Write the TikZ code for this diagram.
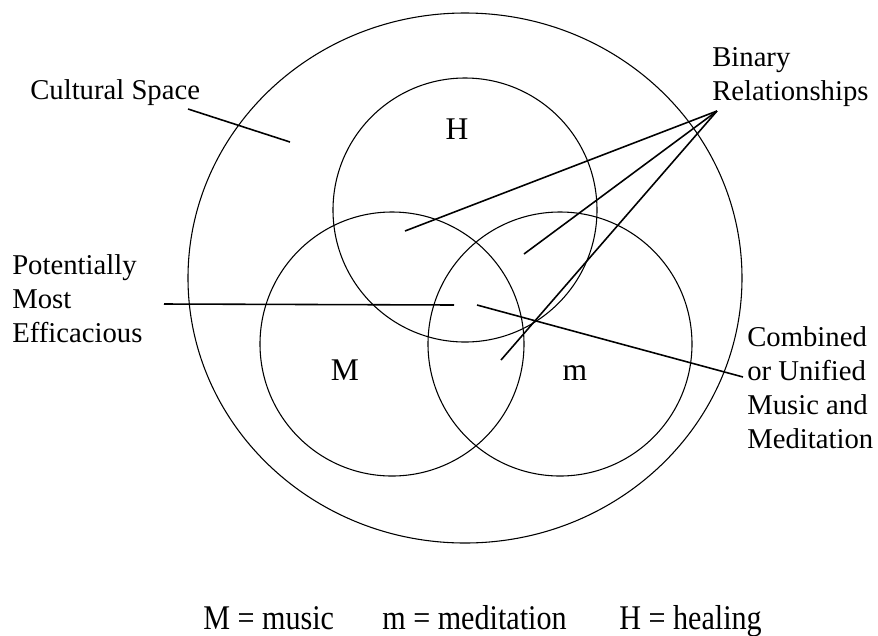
\documentclass[tikz,border=0pt]{standalone}
\usepackage{fontspec}
\setmainfont{Liberation Serif}
\usetikzlibrary{math}

\tikzset{
  txt/.style={font=\fontsize{20}{23.7}\selectfont, inner sep=0pt, align=left, anchor=base west},
  legend/.style={font=\fontsize{21}{25}\selectfont, inner sep=0pt, anchor=base west},
  letter/.style={font=\fontsize{22}{26}\selectfont, inner sep=0pt, anchor=base},
  ring/.style={line width=0.75pt},
  leader/.style={line width=1.1pt}
}

\begin{document}
\begin{tikzpicture}[x=0.697pt,y=-0.697pt]

  \tikzmath{
    \r  = 132; % radius of the three small circles
    \rx = 277; % half width of the cultural space
    \ry = 265; % half height of the cultural space
  }

  \useasboundingbox (0,0) rectangle (878,635);

  % Centres of the circles
  \coordinate (S) at (465, 278);
  \coordinate (H) at (465, 210);
  \coordinate (M) at (392, 344);
  \coordinate (m) at (560, 344);

  % Cultural space and the three circles
  \draw[ring] (S) ellipse [x radius=\rx, y radius=\ry];
  \draw[ring] (H) circle (\r);
  \draw[ring] (M) circle (\r);
  \draw[ring] (m) circle (\r);

  % letters in the circles
  \node[letter] (lH) at (457, 139) {H};
  \node[letter] (lM) at (345, 380) {M};
  \node[letter] (lm) at (575, 380) {m};

  % labels round the picture (base is the last line)
  \node[txt] (cult) at (30, 99) {Cultural Space};
  \node[txt] (bin)  at (712, 100) {Binary\\Relationships};
  \node[txt] (pot)  at (12, 342) {Potentially\\Most\\Efficacious};
  \node[txt] (comb) at (747, 448) {Combined\\or Unified\\Music and\\Meditation};

  % legend
  \node[legend] (legM) at (203, 629) {\scalebox{1}[1.15]{M = music}};
  \node[legend] (legm) at (382, 629) {\scalebox{1}[1.15]{m = meditation}};
  \node[legend] (legH) at (619, 629) {\scalebox{1}[1.15]{H = healing}};

  % end points of the leaders
  \coordinate (cs0)  at (188, 109);
  \coordinate (cs1)  at (290, 142);
  \coordinate (apex) at (717, 111);
  \coordinate (HM)   at (405, 231);
  \coordinate (Hm)   at (524, 254);
  \coordinate (Mm)   at (501, 360);
  \coordinate (pm0)  at (164, 304);
  \coordinate (pm1)  at (454, 305);
  \coordinate (cu0)  at (477, 305);
  \coordinate (cu1)  at (743, 377);

  % leaders
  \draw[leader] (cs0) -- (cs1);
  \draw[leader] (apex) -- (HM);
  \draw[leader] (apex) -- (Hm);
  \draw[leader] (apex) -- (Mm);
  \draw[leader] (pm0) -- (pm1);
  \draw[leader] (cu0) -- (cu1);

\end{tikzpicture}
\end{document}
